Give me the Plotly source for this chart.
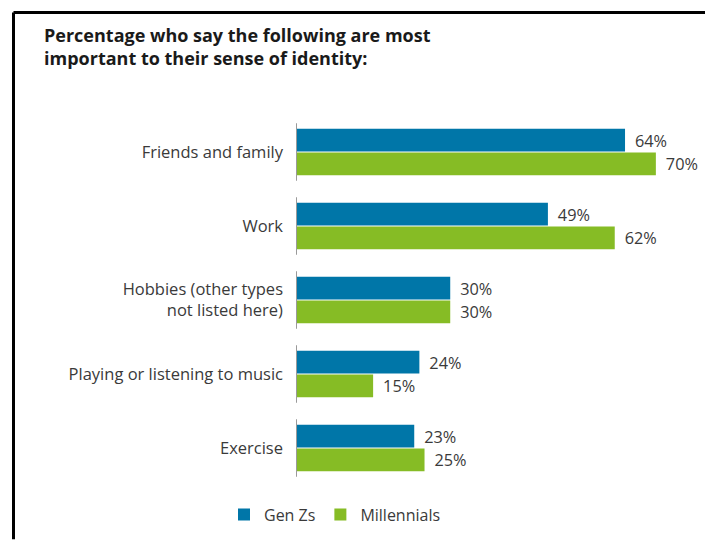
import plotly.graph_objects as go

categories = ["Friends and family", "Work", "Hobbies (other types<br>not listed here)",
              "Playing or listening to music", "Exercise"]
gen_z = [64, 49, 30, 24, 23]
millennials = [70, 62, 30, 15, 25]
series_names = ["Gen Zs", "Millennials"]
title_text = "Percentage who say the following are most<br>important to their sense of identity:"

BLUE = "#0076A8"
GREEN = "#86BC25"
TXT = "#3a3a3a"
FONT = "Open Sans"

W, H = 705, 540
L, R, T, B = 296, 8, 115, 50
pw, ph = W - L - R, H - T - B

def px_to_paper_x(px):
    return (px - L) / pw

def px_to_paper_y(py):
    return (H - B - py) / ph

fig = go.Figure()
for name, vals, col in [(series_names[0], gen_z, BLUE), (series_names[1], millennials, GREEN)]:
    fig.add_trace(go.Bar(
        y=categories, x=vals, name=name, orientation="h",
        marker=dict(color=col, line=dict(width=0)),
        text=[f"{v}%" for v in vals], textposition="outside",
        texttemplate=" \u2009%{text}",
        textfont=dict(family=FONT, size=16.5, color=TXT),
        cliponaxis=False,
    ))

shapes = []
# segmented axis line per category
for i, _ in enumerate(categories):
    shapes.append(dict(type="line", xref="x", yref="y", x0=0, x1=0,
                       y0=i - 0.39, y1=i + 0.39,
                       line=dict(color="#9a9a9a", width=2)))
# black frame (top and left)
shapes.append(dict(type="line", xref="paper", yref="paper",
                   x0=px_to_paper_x(13.5), x1=px_to_paper_x(706),
                   y0=px_to_paper_y(11), y1=px_to_paper_y(11),
                   line=dict(color="black", width=3)))
shapes.append(dict(type="line", xref="paper", yref="paper",
                   x0=px_to_paper_x(13.5), x1=px_to_paper_x(13.5),
                   y0=px_to_paper_y(11), y1=px_to_paper_y(545),
                   line=dict(color="black", width=3)))

fig.update_layout(
    width=W, height=H,
    margin=dict(l=L, r=R, t=T, b=B, pad=0),
    paper_bgcolor="white", plot_bgcolor="white",
    barmode="group", bargap=0.36, bargroupgap=0.04,
    font=dict(family=FONT, color=TXT),
    shapes=shapes,
    showlegend=True,
    legend=dict(orientation="h", x=px_to_paper_x(335), xanchor="center",
                y=px_to_paper_y(520), yanchor="middle",
                font=dict(family=FONT, size=16, color=TXT),
                itemwidth=30,
                traceorder="normal"),
    annotations=[dict(text="<b>" + title_text + "</b>", xref="paper", yref="paper",
                      x=px_to_paper_x(42), y=px_to_paper_y(20), xanchor="left", yanchor="top",
                      align="left", showarrow=False,
                      font=dict(family=FONT, size=18, color="#1a1a1a"))],
)
fig.update_xaxes(range=[0, 78], showgrid=False, zeroline=False, showticklabels=False,
                 showline=False, fixedrange=True)
fig.update_yaxes(autorange="reversed", showgrid=False, zeroline=False, showline=False,
                 ticks="", ticklabelstandoff=12,
                 tickfont=dict(family=FONT, size=16.5, color=TXT))

fig.write_html("out.html")
